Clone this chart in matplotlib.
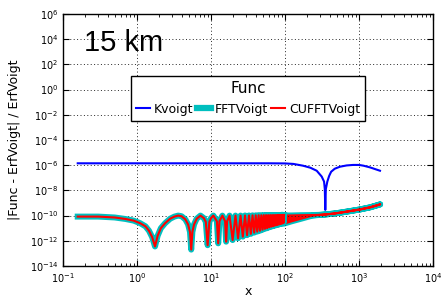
import numpy as np
import matplotlib
matplotlib.use('Agg')
import matplotlib.pyplot as plt
from matplotlib.lines import Line2D

# ---- data (log10 of the relative error) ----
# Kvoigt
kv_x = [0.158, 1, 10, 60, 100, 130, 175, 220, 268, 313, 337, 345, 350,
        356, 373, 395, 420, 470, 553, 680, 830, 1000, 1150, 1400, 1920]
kv_log = [-5.85, -5.85, -5.85, -5.85, -5.86, -5.9, -6.04, -6.2, -6.44, -6.9,
          -7.3, -7.9, -9.55, -7.9, -7.3, -6.85, -6.52, -6.28, -6.12, -6.02,
          -5.98, -5.98, -6.04, -6.17, -6.44]

# FFTVoigt / CUFFTVoigt, oscillating part
fft_x = [0.158, 0.3, 0.5, 0.7, 0.9, 1.1, 1.3, 1.45, 1.6, 1.75, 1.9, 2.1, 2.4,
         2.8, 3.2, 3.6, 4.0, 4.5, 4.9, 5.2, 5.4, 5.6, 5.9, 6.4, 7.2, 8.0, 8.5,
         9.0, 9.5, 10.0, 10.75, 12.0, 12.5, 13.0, 14.25, 15.5, 16.0, 16.5,
         17.8, 19.6, 21.4, 23.2, 25.05, 26.9, 28.8, 30.7, 32.6, 34.5, 36.4,
         38.3, 40.2, 42.1, 44.0, 45.9, 47.8, 49.7, 51.6, 53.5, 55.4, 57.3, 59.2,
         61.1, 63.0, 64.9, 66.8, 68.7, 70.6, 72.5, 74.4, 76.3, 78.2, 80.1, 82.0,
         83.9, 85.8, 87.7, 89.6, 91.5, 93.4, 95.3, 97.2]
fft_log = [-10.08, -10.08, -10.15, -10.27, -10.4, -10.6, -10.85, -11.2, -11.7,
           -12.45, -11.6, -11.0, -10.6, -10.25, -10.08, -10.0, -10.05, -10.3,
           -10.7, -11.3, -12.7, -11.3, -10.7, -10.25, -10.0, -10.2, -10.5,
           -12.35, -10.5, -10.2, -10.0, -10.45, -12.2, -10.45, -10.0, -10.45,
           -12.07, -10.45, -10.0, -11.94, -10.0, -11.8, -10.0, -11.67, -9.99,
           -11.55, -9.99, -11.45, -9.98, -11.35, -9.98, -11.27, -9.97, -11.2,
           -9.97, -11.12, -9.96, -11.05, -9.96, -11.0, -9.96,
           -10.93, -9.96, -10.88, -9.96, -10.84, -9.96, -10.8, -9.96, -10.76,
           -9.96, -10.73, -9.95, -10.69, -9.95, -10.66, -9.95, -10.63, -9.95,
           -10.6, -9.95]

# FFTVoigt / CUFFTVoigt, dense part (upper / lower envelope)
band_x = [40, 55, 70, 85, 95, 120, 160, 218, 260, 300, 345, 450, 560, 750,
          1020, 1400, 1900]
band_hi = [-9.98, -9.97, -9.96, -9.95, -9.95, -9.95, -9.93, -9.92, -9.91,
           -9.9, -9.87, -9.8, -9.72, -9.6, -9.47, -9.3, -9.07]
band_lo = [-9.98, -10.15, -10.35, -10.52, -10.6, -10.42, -10.22, -10.0,
           -9.93, -9.9, -9.87, -9.8, -9.72, -9.6, -9.47, -9.3, -9.07]

labels = ['Kvoigt', 'FFTVoigt', 'CUFFTVoigt']
colors = ['#0000ff', '#00bfbf', '#ff0000']

# ---- figure ----
fig = plt.figure(figsize=(4.41, 2.97), dpi=100)
ax = fig.add_axes([0.1429, 0.1044, 0.839, 0.8485])

fy = np.power(10.0, fft_log)
lo = np.power(10.0, band_lo)
hi = np.power(10.0, band_hi)

ax.plot(kv_x, np.power(10.0, kv_log), color=colors[0], lw=1.5)
# cyan (FFT) under, red (CUFFT) on top
ax.plot(fft_x, fy, color=colors[1], lw=4.3)
ax.fill_between(band_x, lo, hi, facecolor=colors[1], edgecolor=colors[1], lw=4.3)
ax.plot(fft_x, fy, color=colors[2], lw=1.5)
ax.fill_between(band_x, lo, hi, facecolor=colors[2], edgecolor=colors[2], lw=1.5)

ax.set_xscale('log')
ax.set_yscale('log')
ax.set_xlim(1e-1, 1e4)
ax.set_ylim(1e-14, 1e6)
ax.set_yticks([10.0 ** e for e in range(-14, 7, 2)])
ax.yaxis.set_minor_locator(matplotlib.ticker.NullLocator())
ax.xaxis.set_minor_locator(matplotlib.ticker.LogLocator(subs=np.arange(2, 10)))

ax.grid(True, which='major', color='0.15', linestyle=(0, (1, 2.5)), lw=0.7)
ax.tick_params(which='both', direction='in', top=True, right=True, labelsize=7)
ax.tick_params(which='major', length=4, width=0.8)
ax.tick_params(which='minor', length=2, width=0.6)
for s in ax.spines.values():
    s.set_linewidth(1.0)

ax.set_xlabel('x', fontsize=9, labelpad=0)
ax.set_ylabel('|Func - ErfVoigt| / ErfVoigt', fontsize=9, labelpad=6)

ax.text(0.057, 0.885, '15 km', transform=ax.transAxes, ha='left', va='center',
        fontsize=21, family='Liberation Sans')

handles = [Line2D([], [], color=colors[0], lw=1.5),
           Line2D([], [], color=colors[1], lw=4.5, solid_capstyle='projecting'),
           Line2D([], [], color=colors[2], lw=1.5)]
leg = ax.legend(handles, labels, title='Func', ncol=3, loc='center',
                bbox_to_anchor=(0.5, 0.665), fontsize=9, title_fontsize=11,
                handlelength=1.1, handletextpad=0.3, columnspacing=0.3,
                fancybox=False, framealpha=1, edgecolor='k', borderpad=0.4)
leg.get_frame().set_linewidth(1.0)

fig.savefig('out.png', dpi=100)
